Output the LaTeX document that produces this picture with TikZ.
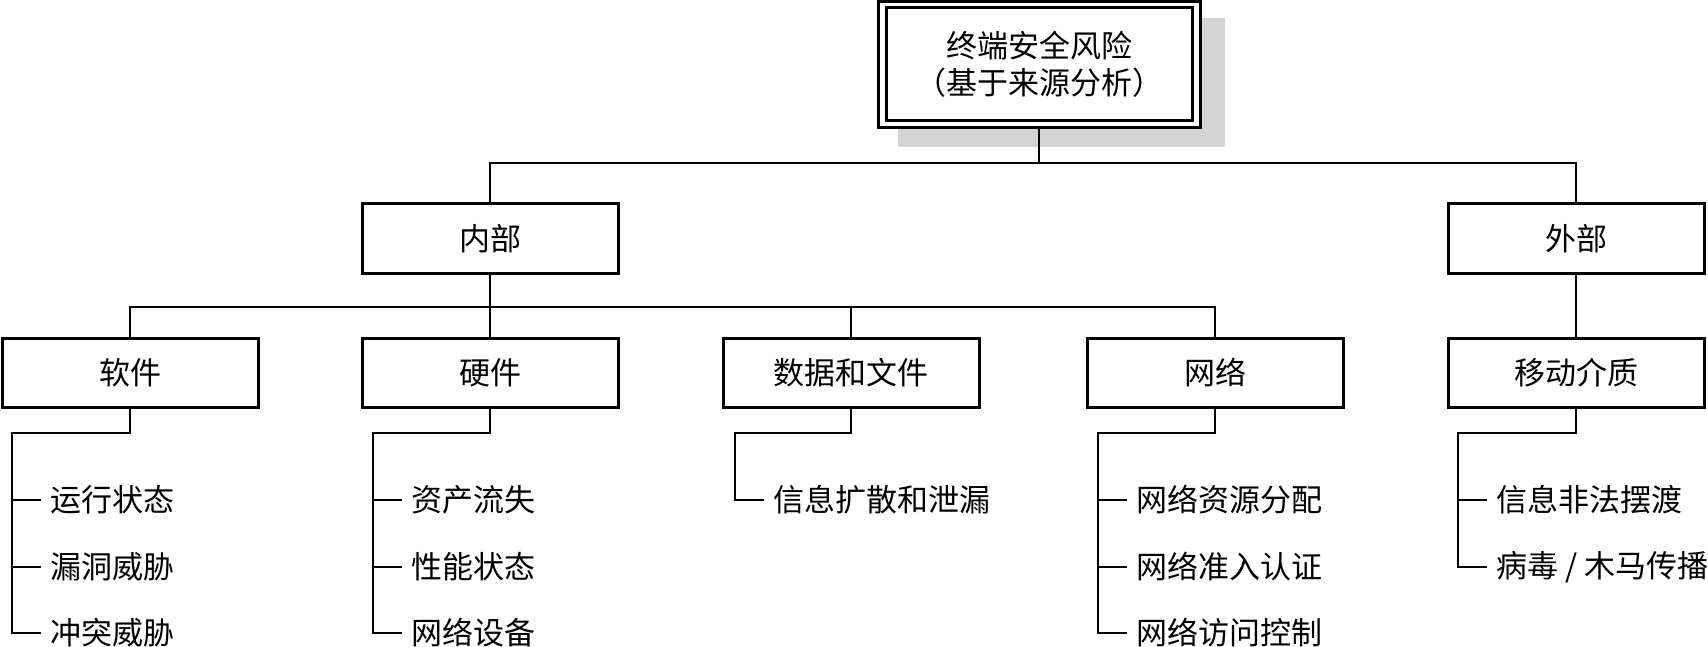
\documentclass[tikz,border=0pt]{standalone}
\usepackage{fontspec}
\newfontfamily\cjk{Noto Sans CJK SC}
\begin{document}
\begin{tikzpicture}[x=1pt,y=-1pt,
  box/.style={draw,line width=3pt,minimum width=256pt,minimum height=69pt,inner sep=0pt,
    font=\cjk\fontsize{31}{37}\selectfont},
  conn/.style={line width=2.4pt},
  itemtext/.style={anchor=west,inner sep=0pt,font=\cjk\fontsize{31}{37}\selectfont}]
\useasboundingbox (0,0) rectangle (1708,647);
% root with shadow and double frame
\fill[black!17] (898,18) rectangle (1225,147);
\node[box,fill=white,minimum width=322pt,minimum height=126pt] (root) at (1039,65) {};
\node[box,minimum width=306pt,minimum height=113pt,align=center] (rootin) at (1039,64.5)
  {终端安全风险\\（基于来源分析）};
% level 2
\node[box] (in) at (490,238.5) {内部};
\node[box] (out) at (1576,238.5) {外部};
% level 3
\node[box] (sw) at (130,372.5) {软件};
\node[box] (hw) at (490,372.5) {硬件};
\node[box] (data) at (851,372.5) {数据和文件};
\node[box] (net) at (1215,372.5) {网络};
\node[box] (mob) at (1576,372.5) {移动介质};
% items
\node[itemtext] (s1) at (50,500) {运行状态};
\node[itemtext] (s2) at (50,567) {漏洞威胁};
\node[itemtext] (s3) at (50,633) {冲突威胁};
\node[itemtext] (h1) at (411,500) {资产流失};
\node[itemtext] (h2) at (411,567) {性能状态};
\node[itemtext] (h3) at (411,633) {网络设备};
\node[itemtext] (d1) at (773,500) {信息扩散和泄漏};
\node[itemtext] (n1) at (1136,500) {网络资源分配};
\node[itemtext] (n2) at (1136,567) {网络准入认证};
\node[itemtext] (n3) at (1136,633) {网络访问控制};
\node[itemtext] (m1) at (1496,500) {信息非法摆渡};
\node[itemtext] (m2) at (1496,567) {病毒 / 木马传播};
% connectors level 1-2
\coordinate (j1) at (1039,163);
\draw[conn] (root.south) -- (j1);
\draw[conn] (in.north) |- (j1) -| (out.north);
% level 2-3
\coordinate (j2) at (490,307);
\draw[conn] (in.south) -- (hw.north);
\draw[conn] (sw.north) |- (j2) -| (net.north);
\draw[conn] (data.north) -- (data.north |- j2);
\draw[conn] (out.south) -- (mob.north);
% item trees
\draw[conn] (sw.south) |- (12,433) -- (12,633) -- ([xshift=-9pt]s3.west);
\draw[conn] (12,500) -- ([xshift=-9pt]s1.west);
\draw[conn] (12,567) -- ([xshift=-9pt]s2.west);
\draw[conn] (hw.south) |- (373,433) -- (373,633) -- ([xshift=-9pt]h3.west);
\draw[conn] (373,500) -- ([xshift=-9pt]h1.west);
\draw[conn] (373,567) -- ([xshift=-9pt]h2.west);
\draw[conn] (data.south) |- (735,433) -- (735,500) -- ([xshift=-9pt]d1.west);
\draw[conn] (net.south) |- (1098,433) -- (1098,633) -- ([xshift=-9pt]n3.west);
\draw[conn] (1098,500) -- ([xshift=-9pt]n1.west);
\draw[conn] (1098,567) -- ([xshift=-9pt]n2.west);
\draw[conn] (mob.south) |- (1458,433) -- (1458,567) -- ([xshift=-9pt]m2.west);
\draw[conn] (1458,500) -- ([xshift=-9pt]m1.west);
\end{tikzpicture}
\end{document}
